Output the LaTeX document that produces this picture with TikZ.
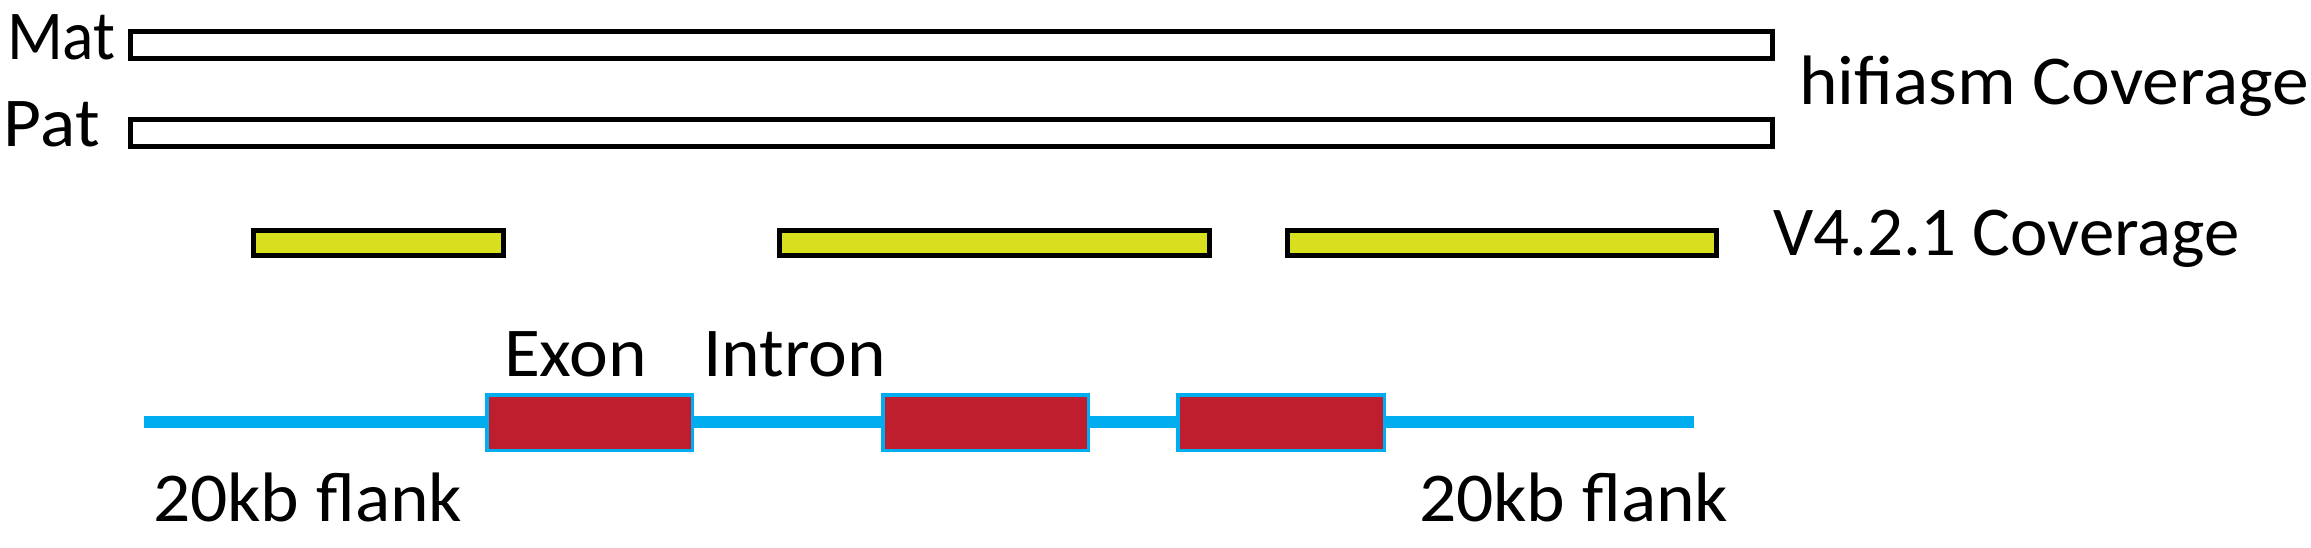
\documentclass[tikz,border=0pt]{standalone}
\usepackage{fontspec}
\usepackage{graphicx}
\setmainfont[FakeStretch=1.05]{Carlito}
\definecolor{barYellow}{RGB}{215,223,31}
\definecolor{exonRed}{RGB}{190,30,45}
\definecolor{lineBlue}{RGB}{0,174,239}
\begin{document}
\begin{tikzpicture}[x=1pt,y=-1pt,
  lbl/.style={anchor=base west,inner sep=0pt,outer sep=0pt,font=\fontsize{70}{78}\selectfont},
  hapbox/.style={draw=black,line width=5pt,fill=white,inner sep=0pt,outer sep=0pt,minimum height=27pt},
  covbox/.style={draw=black,line width=5pt,fill=barYellow,inner sep=0pt,outer sep=0pt,minimum height=25pt},
  exonbox/.style={draw=lineBlue,line width=3.5pt,fill=exonRed,inner sep=0pt,outer sep=0pt,minimum height=55.5pt},
  gene/.style={draw=lineBlue,line width=12pt}]
\useasboundingbox[fill=white] (0,0) rectangle (2311,547);
% hifiasm
\node[hapbox,minimum width=1642pt] (mat) at (951.5,45) {};
\node[hapbox,minimum width=1642pt] (pat) at (951.5,133) {};
\node[lbl] (matl) at (7,59) {\scalebox{0.89}[1]{Mat}};
\node[lbl] (patl) at (4,146) {Pat};
\node[lbl] (hifi) at (1799,104) {hifiasm Coverage};
% V4.2.1
\node[covbox,minimum width=250pt] (c1) at (378.5,243) {};
\node[covbox,minimum width=430pt] (c2) at (994.5,243) {};
\node[covbox,minimum width=429pt] (c3) at (1502,243) {};
\node[lbl] (vcov) at (1773,255) {\scalebox{0.965}[1]{V4.2.1 Coverage}};
% gene
\coordinate (gs) at (144,422);
\coordinate (ge) at (1694,422);
\draw[gene] (gs) -- (ge);
\node[exonbox,minimum width=205.5pt] (e1) at (589.5,422.5) {};
\node[exonbox,minimum width=205.5pt] (e2) at (985.5,422.5) {};
\node[exonbox,minimum width=206.5pt] (e3) at (1281,422.5) {};
\node[lbl] (exon) at (504,376) {Exon};
\node[lbl] (intron) at (703,376) {Intron};
\node[lbl] (fl1) at (153,521) {20kb flank};
\node[lbl] (fl2) at (1419,521) {20kb flank};
\end{tikzpicture}
\end{document}
